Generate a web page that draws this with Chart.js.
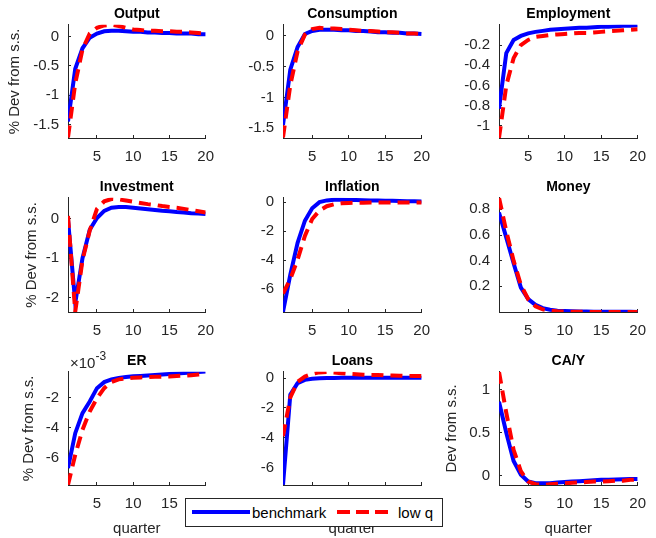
<!DOCTYPE html>
<html>
<head>
<meta charset="utf-8">
<script src="https://cdn.jsdelivr.net/npm/chart.js@4/dist/chart.umd.min.js"></script>
<style>
  body { margin: 0; width: 656px; height: 538px; overflow: hidden; position: relative; background: #fff;
         font-family: "Liberation Sans", Arial, sans-serif; }
  canvas { position: absolute; }
  #legend { position: absolute; left: 185px; top: 498px; width: 258px; height: 29px; box-sizing: border-box;
            border: 1px solid #262626; background: #fff; z-index: 5; }
  #legend svg, #legend span { position: absolute; }
  #legend span { font-size: 15px; color: #000; top: 5px; }
  #scaleER { position: absolute; left: 70px; top: 351px; font-size: 15px; color: #262626; z-index: 4; }
  #scaleER sup { font-size: 12px; position: relative; top: -2px; }
</style>
</head>
<body>
<div id="scaleER">&times;10<sup>-3</sup></div>
<div id="legend">
  <svg style="left:6px;top:8px" width="58" height="10"><line x1="0" y1="5" x2="58" y2="5" stroke="#0000ff" stroke-width="4"/></svg>
  <span style="left:66px">benchmark</span>
  <svg style="left:151px;top:8px" width="52" height="10"><line x1="0" y1="5" x2="52" y2="5" stroke="#ff0000" stroke-width="4" stroke-dasharray="13 6"/></svg>
  <span style="left:212px">low q</span>
</div>
<script>
// quarters after the shock
let quarters = [1, 2, 3, 4, 5, 6, 7, 8, 9, 10, 11, 12, 13, 14, 15, 16, 17, 18, 19, 20];
let xTicks = [5, 10, 15, 20];

let outputBench = [-1.45, -0.55, -0.2, -0.02, 0.05, 0.09, 0.1, 0.1, 0.09, 0.08, 0.08, 0.07, 0.07, 0.06, 0.06, 0.05, 0.05, 0.05, 0.04, 0.04];
let outputLowQ = [-1.72, -0.8, -0.22, 0.05, 0.15, 0.19, 0.2, 0.18, 0.15, 0.12, 0.11, 0.1, 0.1, 0.09, 0.09, 0.08, 0.08, 0.07, 0.06, 0.05];

let consBench = [-1.45, -0.55, -0.18, 0.03, 0.08, 0.1, 0.1, 0.1, 0.09, 0.09, 0.08, 0.08, 0.07, 0.06, 0.06, 0.05, 0.05, 0.04, 0.04, 0.03];
let consLowQ = [-1.65, -0.8, -0.25, 0.02, 0.11, 0.13, 0.12, 0.12, 0.11, 0.1, 0.09, 0.08, 0.08, 0.07, 0.06, 0.06, 0.05, 0.04, 0.04, 0.03];

let empBench = [-0.83, -0.28, -0.15, -0.11, -0.085, -0.07, -0.06, -0.05, -0.045, -0.04, -0.035, -0.03, -0.03, -0.025, -0.02, -0.02, -0.015, -0.01, -0.01, -0.005];
let empLowQ = [-1.12, -0.6, -0.33, -0.2, -0.15, -0.12, -0.11, -0.1, -0.095, -0.09, -0.085, -0.08, -0.08, -0.075, -0.07, -0.065, -0.06, -0.055, -0.05, -0.045];

let invBench = [-0.02, -2.13, -1.0, -0.28, 0.02, 0.2, 0.28, 0.3, 0.3, 0.28, 0.26, 0.24, 0.22, 0.2, 0.19, 0.17, 0.16, 0.14, 0.13, 0.12];
let invLowQ = [0.07, -2.35, -1.05, -0.3, 0.25, 0.44, 0.5, 0.49, 0.46, 0.43, 0.4, 0.37, 0.35, 0.32, 0.3, 0.28, 0.25, 0.22, 0.19, 0.16];

let inflBench = [-7.56, -5.0, -2.8, -1.28, -0.42, 0.0, 0.12, 0.16, 0.16, 0.15, 0.14, 0.13, 0.12, 0.11, 0.1, 0.09, 0.08, 0.07, 0.06, 0.05];
let inflLowQ = [-6.3, -5.3, -3.96, -2.33, -1.16, -0.58, -0.28, -0.14, -0.08, -0.05, -0.04, -0.04, -0.03, -0.03, -0.03, -0.02, -0.02, -0.02, -0.02, -0.02];

let moneyBench = [0.775, 0.58, 0.38, 0.19, 0.1, 0.055, 0.03, 0.018, 0.01, 0.007, 0.005, 0.004, 0.003, 0.002, 0.002, 0.001, 0.001, 0.001, 0.001, 0.0];
let moneyLowQ = [0.89, 0.63, 0.4, 0.21, 0.1, 0.045, 0.02, 0.01, 0.005, 0.003, 0.002, 0.001, 0.001, 0, 0, 0, 0, 0, 0, 0];

let erBench = [-0.00665, -0.00435, -0.00303, -0.00226, -0.00138, -0.00098, -0.0008, -0.0007, -0.00065, -0.0006, -0.00057, -0.00054, -0.00051, -0.00048, -0.00045, -0.00042, -0.00038, -0.00035, -0.00031, -0.00028];
let erLowQ = [-0.00776, -0.00578, -0.00413, -0.00292, -0.00204, -0.00138, -0.00098, -0.0008, -0.00074, -0.0007, -0.00067, -0.00065, -0.00063, -0.00062, -0.00061, -0.00058, -0.00055, -0.00052, -0.00048, -0.00045];

let loansBench = [-7.16, -1.12, -0.34, -0.12, -0.05, -0.02, 0, 0.01, 0.02, 0.02, 0.02, 0.02, 0.02, 0.02, 0.02, 0.02, 0.02, 0.02, 0.02, 0.02];
let loansLowQ = [-3.9, -1.3, -0.25, 0.1, 0.28, 0.38, 0.4, 0.37, 0.33, 0.28, 0.25, 0.23, 0.21, 0.2, 0.18, 0.17, 0.16, 0.15, 0.14, 0.13];

let cayBench = [0.86, 0.5, 0.17, 0.01, -0.07, -0.09, -0.09, -0.09, -0.08, -0.075, -0.07, -0.065, -0.06, -0.055, -0.05, -0.048, -0.045, -0.042, -0.04, -0.04];
let cayLowQ = [1.21, 0.73, 0.3, 0.05, -0.07, -0.1, -0.11, -0.1, -0.095, -0.09, -0.085, -0.08, -0.075, -0.07, -0.07, -0.065, -0.06, -0.06, -0.05, -0.045];

let yTicksOutput = [-1.5, -1, -0.5, 0];
let yTicksCons = [-1.5, -1, -0.5, 0];
let yTicksEmp = [-1, -0.8, -0.6, -0.4, -0.2];
let yTicksInv = [-2, -1, 0];
let yTicksInfl = [-6, -4, -2, 0];
let yTicksMoney = [0.2, 0.4, 0.6, 0.8];
let yTicksER = [-0.006, -0.004, -0.002];
let yTicksLoans = [-6, -4, -2, 0];
let yTicksCay = [0, 0.5, 1];

let colLeft = [68, 283, 499];
let colRight = [213, 429, 645];
let rowTop = [25, 198, 372];
let rowBottom = [138, 312, 485];

let panels = [
    {title: "Output", row: 0, col: 0, bench: outputBench, lowQ: outputLowQ, min: -1.73, max: 0.2, ticks: yTicksOutput, ylabel: "% Dev from s.s.", ylabelPad: 6},
    {title: "Consumption", row: 0, col: 1, bench: consBench, lowQ: consLowQ, min: -1.66, max: 0.18, ticks: yTicksCons},
    {title: "Employment", row: 0, col: 2, bench: empBench, lowQ: empLowQ, min: -1.12, max: 0, ticks: yTicksEmp},
    {title: "Investment", row: 1, col: 0, bench: invBench, lowQ: invLowQ, min: -2.36, max: 0.53, ticks: yTicksInv, ylabel: "% Dev from s.s.", ylabelPad: 23},
    {title: "Inflation", row: 1, col: 1, bench: inflBench, lowQ: inflLowQ, min: -7.57, max: 0.3, ticks: yTicksInfl},
    {title: "Money", row: 1, col: 2, bench: moneyBench, lowQ: moneyLowQ, min: 0, max: 0.89, ticks: yTicksMoney},
    {title: "ER", row: 2, col: 0, bench: erBench, lowQ: erLowQ, min: -0.00777, max: -0.0003, ticks: yTicksER, ylabel: "% Dev from s.s.", ylabelPad: 20, scale: 1000},
    {title: "Loans", row: 2, col: 1, bench: loansBench, lowQ: loansLowQ, min: -7.17, max: 0.42, ticks: yTicksLoans},
    {title: "CA/Y", row: 2, col: 2, bench: cayBench, lowQ: cayLowQ, min: -0.11, max: 1.21, ticks: yTicksCay, ylabel: "Dev from s.s.", ylabelPad: 12}
];

let tickFont = {family: "Liberation Sans", size: 15};
let tickGrey = "#262626";

function toPoints(values) {
    return quarters.map(function (q, i) { return {x: q, y: values[i]}; });
}

function drawPanel(p) {
    let L = colLeft[p.col], R = colRight[p.col], T = rowTop[p.row], B = rowBottom[p.row];
    let yAxisW = 68, rightPad = 14, titleH = 24;
    let bottomH = (p.row === 2) ? 538 - B : 34;
    let canvas = document.createElement("canvas");
    canvas.width = (R - L) + yAxisW + rightPad;
    canvas.height = (B - T) + titleH + bottomH;
    canvas.style.left = (L - yAxisW) + "px";
    canvas.style.top = (T - titleH) + "px";
    document.body.appendChild(canvas);

    let yTicks = p.ticks;
    let mult = p.scale || 1;
    new Chart(canvas, {
        type: "line",
        data: {
            datasets: [
                {label: "low q", data: toPoints(p.lowQ), borderColor: "#ff0000", borderWidth: 4,
                    borderDash: [12, 7], pointRadius: 0, tension: 0, order: 0},
                {label: "benchmark", data: toPoints(p.bench), borderColor: "#0000ff", borderWidth: 4,
                    pointRadius: 0, tension: 0, order: 1}
            ]
        },
        options: {
            responsive: false,
            animation: false,
            devicePixelRatio: 1,
            layout: {padding: {left: 0, right: rightPad, top: 0, bottom: 0}},
            plugins: {
                legend: {display: false},
                tooltip: {enabled: false},
                title: {
                    display: true, text: p.title, fullSize: false, color: "#000",
                    font: {family: "Liberation Sans", size: 14, weight: "bold"},
                    padding: {top: 5, bottom: 2}
                }
            },
            scales: {
                x: {
                    type: "linear", min: 1, max: 20,
                    afterBuildTicks: function (s) { s.ticks = xTicks.map(function (v) { return {value: v}; }); },
                    afterFit: function (s) { s.height = bottomH; },
                    grid: {display: true, drawOnChartArea: false, drawTicks: true, tickLength: -3, tickColor: tickGrey},
                    border: {display: true, color: tickGrey, width: 1},
                    ticks: {font: tickFont, color: tickGrey, padding: 13, maxRotation: 0},
                    title: {display: p.row === 2, text: "quarter", color: tickGrey,
                        font: {family: "Liberation Sans", size: 15}, padding: {top: 0, bottom: 0}}
                },
                y: {
                    min: p.min, max: p.max,
                    afterBuildTicks: function (s) { s.ticks = yTicks.map(function (v) { return {value: v}; }); },
                    afterFit: function (s) { s.width = yAxisW; },
                    grid: {display: true, drawOnChartArea: false, drawTicks: true, tickLength: -3, tickColor: tickGrey},
                    border: {display: true, color: tickGrey, width: 1},
                    ticks: {
                        font: tickFont, color: tickGrey, padding: 12,
                        callback: function (v) { return String(Math.round(v * mult * 1000) / 1000); }
                    },
                    title: {display: !!p.ylabel, text: p.ylabel || "", color: tickGrey,
                        font: {family: "Liberation Sans", size: 15}, padding: {top: p.ylabelPad || 0, bottom: 0}}
                }
            }
        }
    });
}

panels.forEach(drawPanel);
</script>
</body>
</html>
